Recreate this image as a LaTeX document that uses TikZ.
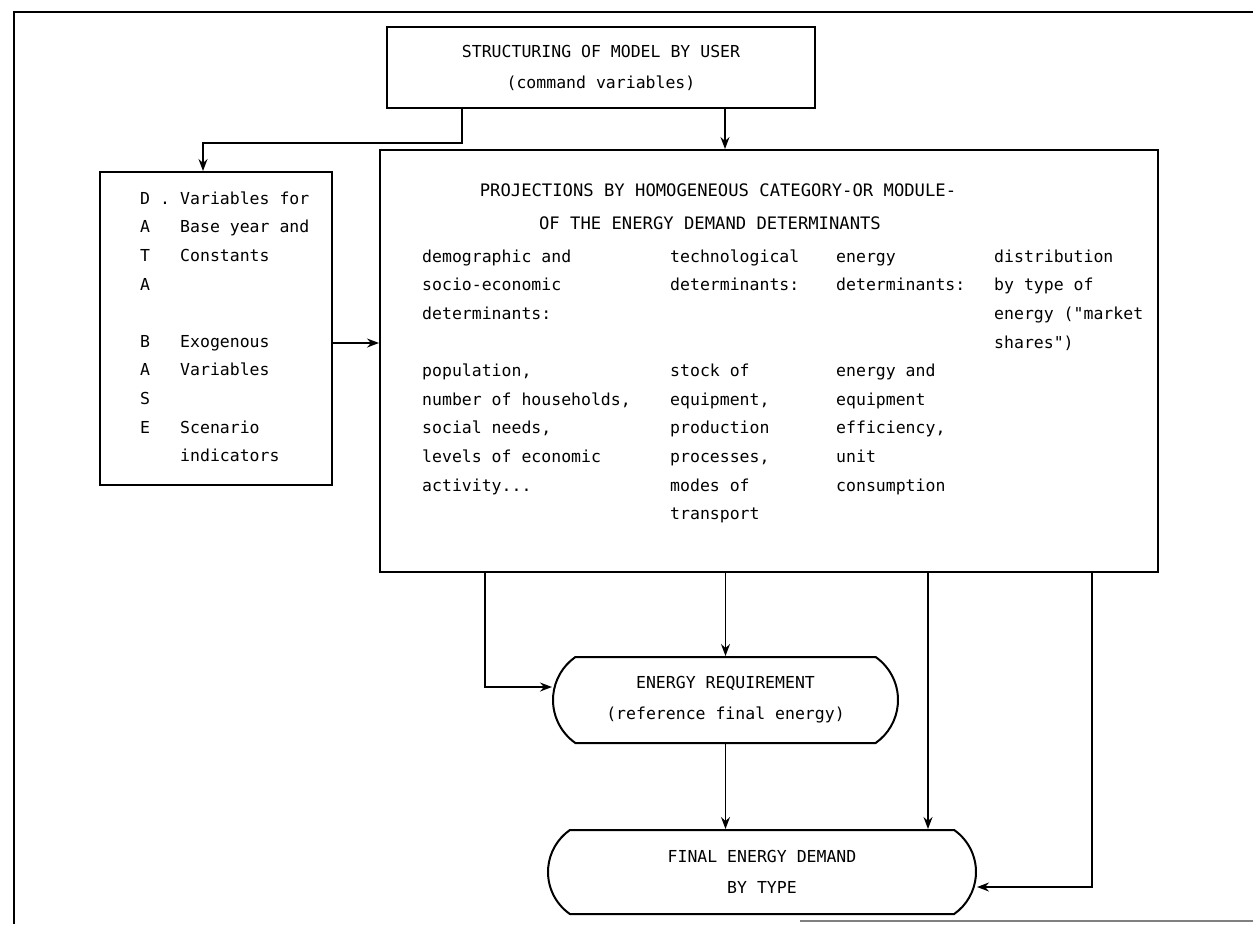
\documentclass[tikz,border=0pt]{standalone}
\usepackage{fontspec}
\setmonofont{DejaVu Sans Mono}
\usetikzlibrary{arrows.meta,shapes.misc}
\begin{document}
\begin{tikzpicture}[x=1pt,y=-1pt,
  box/.style={draw, line width=2pt, inner sep=0pt},
  term/.style={draw, line width=2pt, rounded rectangle,
    rounded rectangle arc length=110, inner sep=0pt},
  link/.style={line width=1.5pt},
  arr/.style={link, -{Stealth[length=12pt,width=9pt,inset=4pt]}},
  tfont/.style={font=\ttfamily\fontsize{16.5}{31}\selectfont},
  txt/.style={tfont, inner sep=0pt, text height=12pt, text depth=3.5pt, anchor=west},
  headline/.style={txt, font=\ttfamily\fontsize{17.2}{31}\selectfont, anchor=center},
]
\useasboundingbox (0,0) rectangle (1253,924);

% page frame
\draw[line width=2.6pt] (1253,12) -- (14,12) -- (14,924);
\draw[line width=2pt, black!50] (800,921) -- (1253,921);

% boxes
\node[box, tfont, align=center, minimum width=428, minimum height=81] (user) at (601,67.5)
  {STRUCTURING OF MODEL BY USER\\(command variables)};
\node[box, minimum width=232, minimum height=313] (data) at (216,328.5) {};
\node[box, minimum width=778, minimum height=422] (proj) at (769,361) {};
\node[term, tfont, align=center, minimum width=345, minimum height=86] (er) at (725.5,700)
  {ENERGY REQUIREMENT\\(reference final energy)};
\node[term, tfont, align=center, minimum width=428, minimum height=84] (fed) at (762,872)
  {FINAL ENERGY DEMAND\\BY TYPE};

% data base contents
\foreach \i/\t in {0/{D .},1/A,2/T,3/A,5/B,6/A,7/S,8/E}
  \node[txt] (dl-\i) at (140,{200+28.6*\i}) {\t};
\foreach \i/\t in {0/Variables for,1/Base year and,2/Constants,5/Exogenous,
                   6/Variables,8/Scenario,9/indicators}
  \node[txt] (dt-\i) at (180,{200+28.6*\i}) {\t};

% projection contents
\node[headline] (pt1) at (718,192) {PROJECTIONS BY HOMOGENEOUS CATEGORY-OR MODULE-};
\node[headline] (pt2) at (710,225) {OF THE ENERGY DEMAND DETERMINANTS};
\foreach \i/\t in {0/demographic and,1/socio-economic,2/determinants:,4/{population,},
                   5/{number of households,},6/{social needs,},7/levels of economic}
  \node[txt] (ca-\i) at (422,{258+28.6*\i}) {\t};
\node[txt] (ca-8) at (422,{258+28.6*8}) {activity...};
\foreach \i/\t in {0/technological,1/determinants:,4/stock of,5/{equipment,},
                   6/production,7/{processes,},8/modes of,9/transport}
  \node[txt] (cb-\i) at (670,{258+28.6*\i}) {\t};
\foreach \i/\t in {0/energy,1/determinants:,4/energy and,5/equipment,
                   6/{efficiency,},7/unit,8/consumption}
  \node[txt] (cc-\i) at (836,{258+28.6*\i}) {\t};
\foreach \i/\t in {0/distribution,1/by type of,2/{energy ("market},3/{shares")}}
  \node[txt] (cd-\i) at (994,{258+28.6*\i}) {\t};

% bend points of the connectors
\coordinate (k1) at (462,143);
\coordinate (k2) at (203,143);
\coordinate (k3) at (725,0);
\coordinate (k4) at (0,343);
\coordinate (k5) at (485,687);
\coordinate (k6) at (928,0);
\coordinate (k7) at (1092,887);

% connectors
\draw[arr] (user.south -| k1) -- (k1) -- (k2) -- (data.north -| k2);
\draw[arr] (user.south -| k3) -- (proj.north -| k3);
\draw[arr] (data.east |- k4) -- (proj.west |- k4);
\draw[arr] (proj.south -| k5) -- (k5) -- (er.west |- k5);
\draw[arr] (proj.south -| er.north) -- (er.north);
\draw[arr] (er.south) -- (fed.north -| er.south);
\draw[arr] (proj.south -| k6) -- (fed.north -| k6);
\draw[arr] (proj.south -| k7) -- (k7) -- (fed.east |- k7);
\end{tikzpicture}
\end{document}
